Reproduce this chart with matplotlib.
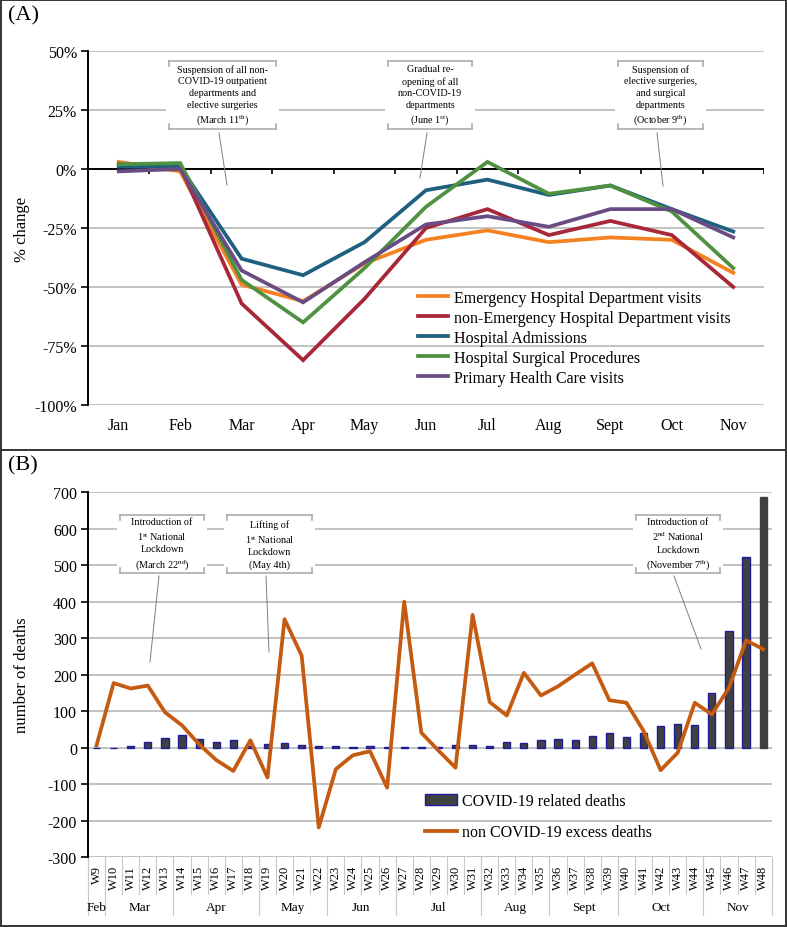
import numpy as np
import matplotlib.pyplot as plt
from matplotlib.patches import Rectangle
from matplotlib.lines import Line2D

plt.rcParams['font.family'] = ['Liberation Serif', 'DejaVu Serif']
plt.rcParams['mathtext.fontset'] = 'custom'
plt.rcParams['mathtext.rm'] = 'Liberation Serif'
plt.rcParams['mathtext.it'] = 'Liberation Serif:italic'

W, H = 787, 928

# ---- panel A data (% change vs previous year) ----
months = ["Jan", "Feb", "Mar", "Apr", "May", "Jun", "Jul", "Aug", "Sept", "Oct", "Nov"]
emergency = [3, -1, -49, -56, -40, -30, -26, -31, -29, -30, -44]
non_emergency = [2, 1, -57, -81, -55, -25, -17, -28, -22, -28, -50]
admissions = [1, 1, -38, -45, -31, -9, -4.5, -11, -7, -17, -26.5]
surgical = [2, 2.5, -47, -65, -42, -16, 3, -10.5, -7, -18, -42]
primary = [-1, 0, -43, -56.5, -39.5, -23.5, -20, -24.5, -17, -17, -29]

series_a = [
    ("Emergency Hospital Department visits", emergency, "#F58220"),
    ("non-Emergency Hospital Department visits", non_emergency, "#A8283A"),
    ("Hospital Admissions", admissions, "#1F5F80"),
    ("Hospital Surgical Procedures", surgical, "#4E9140"),
    ("Primary Health Care visits", primary, "#6A4C85"),
]

# ---- panel B data (weekly deaths) ----
weeks = ["W9", "W10", "W11", "W12", "W13", "W14", "W15", "W16", "W17", "W18",
         "W19", "W20", "W21", "W22", "W23", "W24", "W25", "W26", "W27", "W28",
         "W29", "W30", "W31", "W32", "W33", "W34", "W35", "W36", "W37", "W38",
         "W39", "W40", "W41", "W42", "W43", "W44", "W45", "W46", "W47", "W48"]
covid_deaths = [0, 0, 4, 14, 25, 35, 23, 15, 21, 3,
                9, 13, 6, 5, 3, 2, 5, 2, 2, 2,
                1, 6, 6, 5, 15, 13, 20, 23, 22, 33,
                41, 30, 39, 59, 65, 61, 149, 320, 522, 687]
excess_deaths = [6, 177, 162, 170, 97, 61, 9, -34, -64, 20,
                 -82, 352, 252, -219, -59, -21, -10, -110, 400, 41,
                 -8, -55, 364, 125, 88, 205, 143, 168, 200, 231,
                 130, 123, 46, -62, -14, 123, 91, 164, 294, 270]
month_names_b = ["Feb", "Mar", "Apr", "May", "Jun", "Jul", "Aug", "Sept", "Oct", "Nov"]
weeks_per_month = [1, 4, 5, 4, 4, 5, 4, 4, 5, 4]

grid_c = "#BDBDBD"
box_c = "#A6A6A6"


def fx(px):
    return px / W


def fy(py):
    return 1 - py / H


fig = plt.figure(figsize=(W / 100, H / 100), dpi=100)


def callout(text, box, leader, fs=7.3):
    x0, y0, x1, y1 = box
    fig.add_artist(Rectangle((fx(x0 - 3), fy(y1 + 3)), (x1 - x0 + 6) / W, (y1 - y0 + 6) / H,
                             transform=fig.transFigure, fc="white", ec="none", zorder=5))
    segs = [((x0, x1), (y0, y0)), ((x0, x1), (y1, y1)),
            ((x0, x0), (y0, y0 + 5)), ((x1, x1), (y0, y0 + 5)),
            ((x0, x0), (y1 - 5, y1)), ((x1, x1), (y1 - 5, y1))]
    for xs, ys in segs:
        fig.add_artist(Line2D([fx(v) for v in xs], [fy(v) for v in ys], color=box_c,
                              lw=1.1, transform=fig.transFigure, zorder=6))
    fig.text(fx((x0 + x1) / 2), fy((y0 + y1) / 2), text, ha="center", va="center",
             fontsize=fs, linespacing=1.38, zorder=7)
    (lx0, ly0), (lx1, ly1) = leader
    fig.add_artist(Line2D([fx(lx0), fx(lx1)], [fy(ly0), fy(ly1)], color="#7F7F7F",
                          lw=0.7, transform=fig.transFigure, zorder=6))


# ================= panel A =================
ax = fig.add_axes([fx(88), fy(406), 676 / W, (406 - 52) / H])
x = np.arange(len(months))
for name, vals, col in series_a:
    ax.plot(x, vals, color=col, lw=2.7, label=name, solid_joinstyle="miter", zorder=3)

ax.set_xlim(-0.5, len(months) - 0.5)
ax.set_ylim(-100, 50)
yt = [50, 25, 0, -25, -50, -75, -100]
for v in yt:
    if v != 0:
        ax.axhline(v, color=grid_c, lw=1.3, zorder=0)
ax.axhline(0, color="black", lw=1.4, zorder=2)
ax.vlines(np.arange(-0.5, len(months)), 0, -2.1, color="black", lw=1.2, zorder=2)
ax.set_yticks(yt)
ax.set_yticklabels(["%d%%" % v for v in yt], fontsize=11.5)
ax.set_xticks(x)
ax.set_xticklabels(months, fontsize=11.5)
ax.tick_params(axis="x", length=0, pad=9)
ax.tick_params(axis="y", direction="out", length=5, width=1.2, pad=3)
for s in ["top", "right", "bottom"]:
    ax.spines[s].set_visible(False)
ax.spines["left"].set_linewidth(1.4)
fig.text(fx(22), fy(229), "% change", rotation=90, ha="center", va="center", fontsize=12)

ax.legend(loc="upper left", bbox_to_anchor=(fx(418), fy(291)), bbox_transform=fig.transFigure,
          frameon=False, fontsize=11.5, borderpad=0, borderaxespad=0, handlelength=1.9,
          handletextpad=0.35, labelspacing=0.25)

fig.text(fx(8), fy(16), "(A)", ha="left", va="center", fontsize=16)

callout("Suspension of all non-\nCOVID-19 outpatient\ndepartments and\nelective surgeries\n(March 11$^{\\rm th}$)",
        (169, 62, 276, 130), ((219, 134), (227, 186)))
callout("Gradual re-\nopening of all\nnon-COVID-19\ndepartments\n(June 1$^{\\rm st}$)",
        (388, 62, 472, 130), ((427, 134), (420, 179)))
callout("Suspension of\nelective surgeries,\nand surgical\ndepartments\n(October 9$^{\\rm th}$)",
        (618, 62, 703, 130), ((657, 134), (663, 187)))

# ================= panel B =================
bx = fig.add_axes([fx(88), fy(858), (771.7 - 88) / W, (858 - 493.3) / H])
xb = np.arange(len(weeks))
edges = ["#1C1C9C"] * (len(weeks) - 1) + ["#404040"]
bars = bx.bar(xb, covid_deaths, width=0.42, color="#404040", edgecolor=edges, lw=1.0, zorder=2)
line, = bx.plot(xb, excess_deaths, color="#C55A11", lw=2.7, zorder=3)
bx.set_xlim(-0.5, len(weeks) - 0.5)
bx.set_ylim(-300, 700)
ytb = list(range(-300, 701, 100))
for v in ytb:
    bx.axhline(v, color=grid_c, lw=1.3, zorder=0)
bx.set_yticks(ytb)
bx.set_yticklabels([str(v) for v in ytb], fontsize=11.5)
bx.tick_params(axis="y", direction="out", length=5, width=1.2, pad=3)
bx.set_xticks([])
for s in ["top", "right", "bottom"]:
    bx.spines[s].set_visible(False)
bx.spines["left"].set_linewidth(1.4)

tr = bx.get_xaxis_transform()
ax_h = 858 - 493.3
for i, wk in enumerate(weeks):
    bx.text(i, -8 / ax_h, wk, rotation=90, ha="center", va="top", fontsize=9, transform=tr)
for b in np.arange(-0.5, len(weeks)):
    bx.plot([b, b], [0, -37 / ax_h], color="#C8C8C8", lw=0.8, transform=tr, clip_on=False)
start = 0
bounds = [-0.5]
for name, n in zip(month_names_b, weeks_per_month):
    bx.text(start + (n - 1) / 2, -50 / ax_h, name, ha="center", va="center", fontsize=9.5, transform=tr)
    start += n
    bounds.append(start - 0.5)
for b in bounds:
    bx.plot([b, b], [0, -58 / ax_h], color="#C8C8C8", lw=0.8, transform=tr, clip_on=False)

fig.text(fx(22), fy(675), "number of deaths", rotation=90, ha="center", va="center", fontsize=12)
bx.legend([bars, line], ["COVID-19 related deaths", "non COVID-19 excess deaths"],
          loc="upper left", bbox_to_anchor=(fx(425), fy(794)), bbox_transform=fig.transFigure,
          frameon=False, fontsize=11.5, borderpad=0, borderaxespad=0, handlelength=2.0,
          handletextpad=0.3, labelspacing=0.95)

fig.text(fx(8), fy(466), "(B)", ha="left", va="center", fontsize=16)

callout("Introduction of\n1$^{\\rm st}$ National\nLockdown\n(March 22$^{\\rm nd}$)",
        (120, 516, 204, 574), ((159, 577), (150, 663)))
callout("Lifting of\n1$^{\\rm st}$ National\nLockdown\n(May 4th)",
        (227, 516, 312, 574), ((266, 577), (269, 653)))
callout("Introduction of\n2$^{\\rm nd}$ National\nLockdown\n(November 7$^{\\rm th}$)",
        (636, 516, 720, 574), ((674, 577), (701, 650)))

# panel frames
fig.add_artist(Rectangle((0.001, 0.001), 0.998, 0.998, transform=fig.transFigure,
                         fill=False, ec="#333333", lw=1.4))
fig.add_artist(Line2D([0, 1], [fy(451), fy(451)], color="#333333", lw=1.4, transform=fig.transFigure))

fig.savefig("out.png", dpi=100)
